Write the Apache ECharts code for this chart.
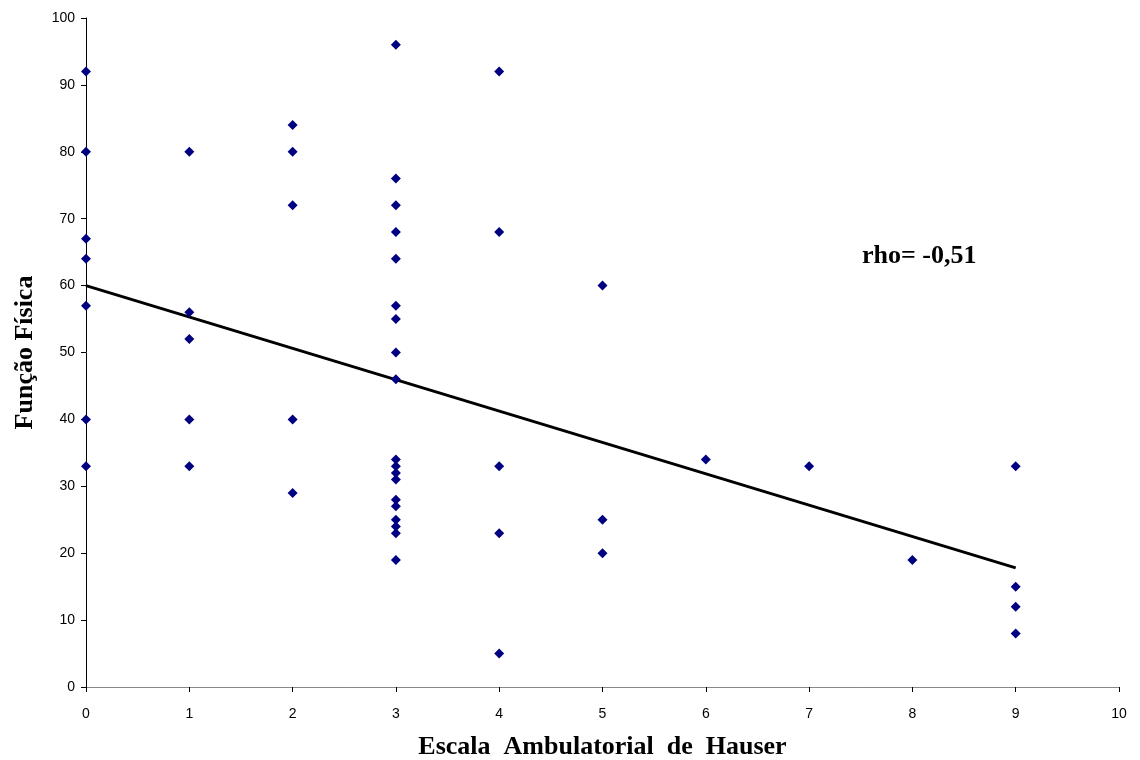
<!DOCTYPE html>
<html>
<head>
    <meta charset="utf-8">
    <script src="https://cdn.jsdelivr.net/npm/echarts@6/dist/echarts.min.js"></script>
    <style>body{margin:0;background:#fff;}</style>
</head>
<body>
<div id="main" style="width:1140px;height:760px;"></div>
<script type="text/javascript">
    // Escala de Hauser (x) e Função Física (y)
    var hauser = [0,0,0,0,0,0,0,
        1,1,1,1,1,
        2,2,2,2,2,
        3,3,3,3,3,3,3,3,3,3,3,3,3,3,3,3,3,3,3,
        4,4,4,4,4,
        5,5,5,
        6,7,8,
        9,9,9,9];
    var funcao = [92,80,67,64,57,40,33,
        80,56,52,40,33,
        84,80,72,40,29,
        96,76,72,68,64,57,55,50,46,34,33,32,31,28,27,25,24,23,19,
        92,68,33,23,5,
        60,25,20,
        34,33,19,
        33,15,12,8];
    var trendX = [0, 9];
    var trendY = [60, 17.8];
    var rhoText = 'rho= -0,51';

    var pontos = hauser.map(function (x, i) { return [x, funcao[i]]; });
    var trend = trendX.map(function (x, i) { return [x, trendY[i]]; });

    var myChart = echarts.init(document.getElementById('main'));
    var option = {
        animation: false,
        grid: { left: 86, right: 21, top: 18, bottom: 73, outerBoundsMode: 'none', containLabel: false },
        xAxis: {
            type: 'value', min: 0, max: 10, interval: 1,
            name: 'Escala  Ambulatorial  de  Hauser',
            nameLocation: 'middle', nameGap: 47,
            nameTextStyle: { fontFamily: 'Liberation Serif', fontWeight: 'bold', fontSize: 26, color: '#000' },
            axisLine: { lineStyle: { color: '#888', width: 1 } },
            axisTick: { lineStyle: { color: '#000' }, length: 5 },
            axisLabel: { fontFamily: 'Liberation Sans', fontSize: 14, color: '#000', margin: 20 },
            splitLine: { show: false }
        },
        yAxis: {
            type: 'value', min: 0, max: 100, interval: 10,
            name: 'Função Física',
            nameLocation: 'middle', nameGap: 48,
            nameTextStyle: { fontFamily: 'Liberation Serif', fontWeight: 'bold', fontSize: 26, color: '#000' },
            axisLine: { show: true, lineStyle: { color: '#000', width: 1 } },
            axisTick: { show: true, lineStyle: { color: '#000' }, length: 5 },
            axisLabel: { fontFamily: 'Liberation Sans', fontSize: 14, color: '#000', margin: 11 },
            splitLine: { show: false }
        },
        graphic: [{
            type: 'text', x: 862, y: 256,
            style: { text: rhoText, font: 'bold 26px "Liberation Serif"', fill: '#000', verticalAlign: 'middle' }
        }],
        series: [{
            type: 'scatter',
            symbol: 'diamond',
            symbolSize: 10,
            itemStyle: { color: '#000080', opacity: 1 },
            data: pontos,
            z: 3
        }, {
            type: 'line',
            data: trend,
            showSymbol: false,
            lineStyle: { color: '#000', width: 3 },
            z: 2
        }]
    };
    myChart.setOption(option);
</script>
</body>
</html>
